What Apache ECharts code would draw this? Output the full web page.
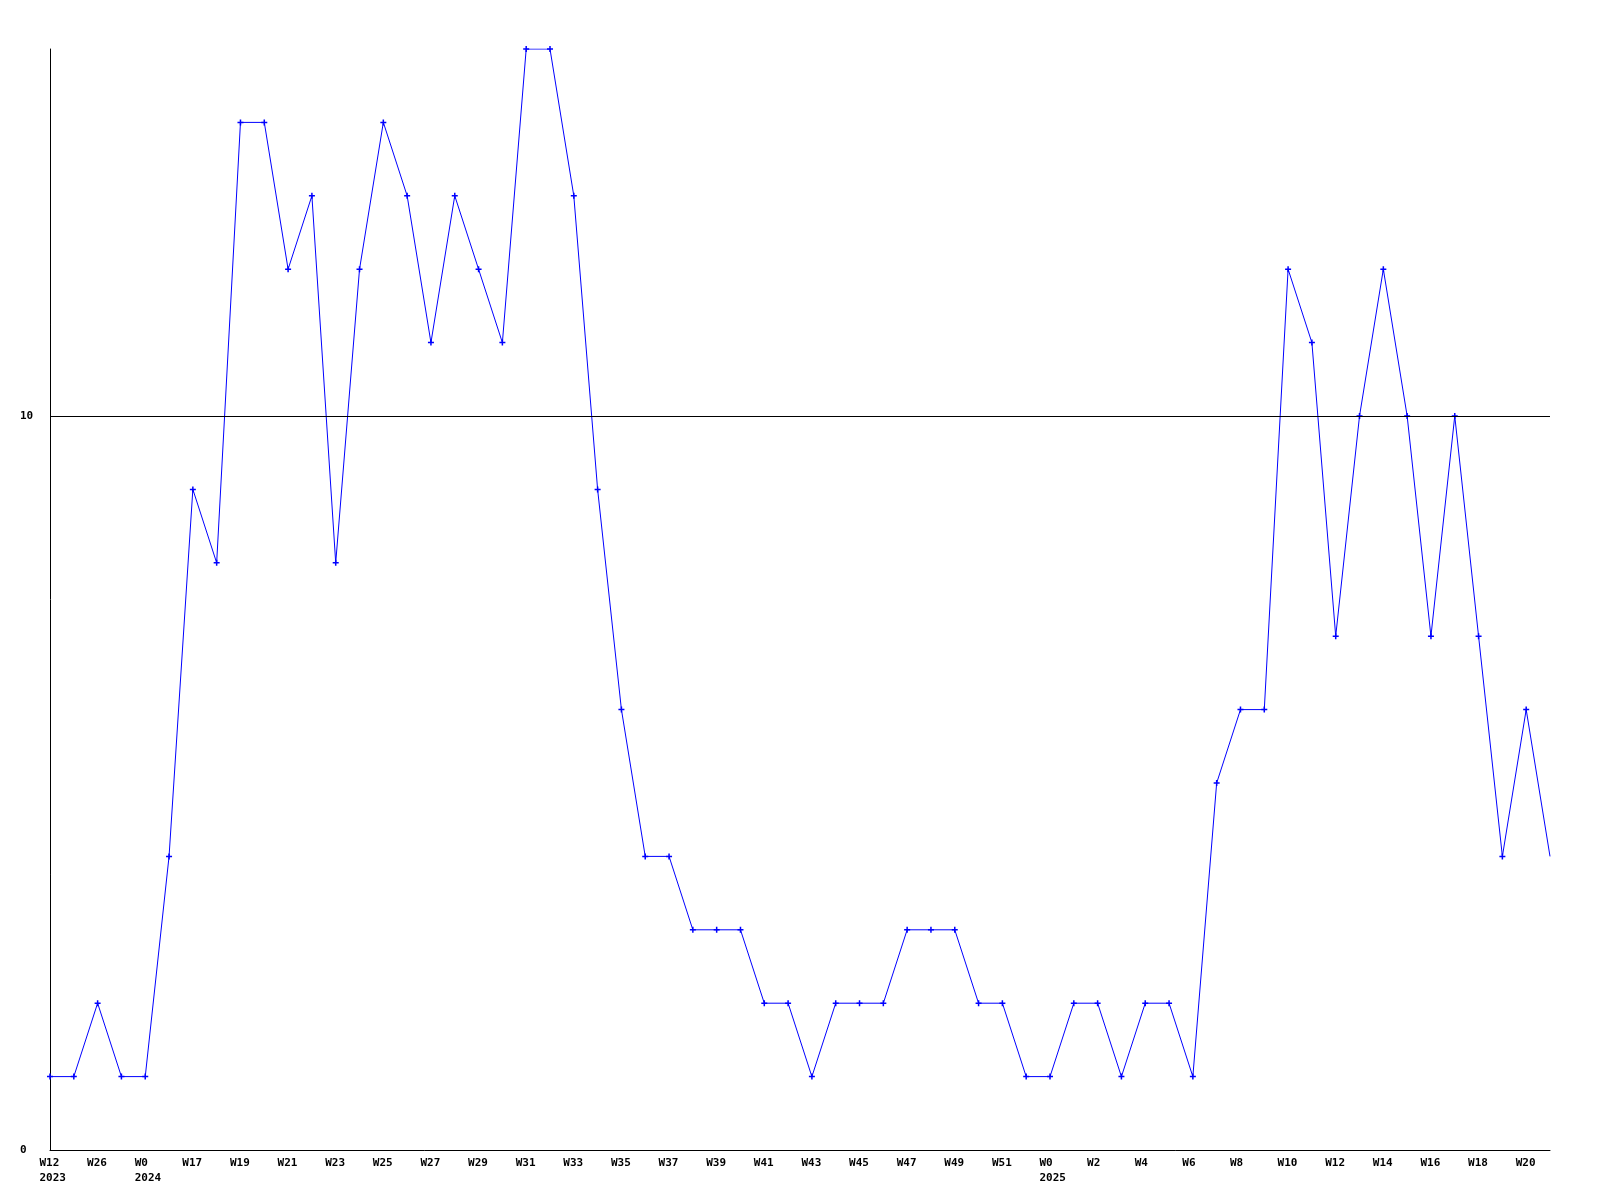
<!DOCTYPE html>
<html>
<head>
<meta charset="utf-8">
<script src="https://cdn.jsdelivr.net/npm/echarts@6/dist/echarts.min.js"></script>
<style>
html,body{margin:0;padding:0;background:#fff;}
#chart{width:1600px;height:1200px;}
</style>
</head>
<body>
<div id="chart"></div>
<script>
var categories = [
  "W12\n2023","W13","W26","W27","W0\n2024","W16","W17","W18","W19","W20",
  "W21","W22","W23","W24","W25","W26","W27","W28","W29","W30",
  "W31","W32","W33","W34","W35","W36","W37","W38","W39","W40",
  "W41","W42","W43","W44","W45","W46","W47","W48","W49","W50",
  "W51","W52","W0\n2025","W1","W2","W3","W4","W5","W6","W7",
  "W8","W9","W10","W11","W12","W13","W14","W15","W16","W17",
  "W18","W19","W20","W21"
];
var values = [
  1,1,2,1,1,4,9,8,14,14,
  12,13,8,12,14,13,11,13,12,11,
  15,15,13,9,6,4,4,3,3,3,
  2,2,1,2,2,2,3,3,3,2,
  2,1,1,2,2,1,2,2,1,5,
  6,6,12,11,7,10,12,10,7,10,
  7,4,6,4
];
var yLabels = [0, 10];
var refLine = 10;

var chart = echarts.init(document.getElementById('chart'), null, {renderer:'canvas'});
var font = {fontFamily:'DejaVu Sans Mono', fontWeight:'bold', fontSize:11, color:'#000'};
var plus = 'path://M-1,-4H1V-1H4V1H1V4H-1V1H-4V-1H-1Z';
chart.setOption({
  animation:false,
  backgroundColor:'#fff',
  grid:[
    {left:50, right:50, top:49, bottom:50, containLabel:false},
    {left:39.5, right:60.5, top:49, bottom:50, containLabel:false}
  ],
  xAxis:[{
    type:'category', data:categories, boundaryGap:false, gridIndex:0,
    axisLine:{lineStyle:{color:'#000', width:1}},
    axisTick:{show:false},
    axisLabel:{show:false},
    splitLine:{show:false}
  },{
    type:'category', data:categories, boundaryGap:false, gridIndex:1,
    axisLine:{show:false},
    axisTick:{show:false},
    axisLabel:Object.assign({interval:1, margin:6, lineHeight:15, align:'left'}, font),
    splitLine:{show:false}
  }],
  yAxis:[{
    type:'value', min:0, max:15, interval:5, gridIndex:0,
    axisLine:{show:true, lineStyle:{color:'#000', width:1}},
    axisTick:{show:false},
    splitLine:{show:false},
    axisLabel:Object.assign({margin:30, align:'left', showMaxLabel:false, formatter:function(v){return yLabels.indexOf(v)>=0 ? String(v) : '';}}, font)
  },{
    type:'value', min:0, max:15, gridIndex:1, show:false
  }],
  series:[{
    type:'line', data:values, xAxisIndex:0, yAxisIndex:0,
    showAllSymbol:true,
    symbol:function(v, p){ return p.dataIndex === values.length-1 ? 'none' : plus; },
    symbolSize:6,
    lineStyle:{color:'#0000ff', width:1},
    itemStyle:{color:'#0000ff'},
    markLine:{
      silent:true, symbol:'none', label:{show:false},
      lineStyle:{color:'#000', width:1, type:'solid'},
      data:[{yAxis:refLine}]
    },
    z:3
  }]
});
</script>
</body>
</html>
